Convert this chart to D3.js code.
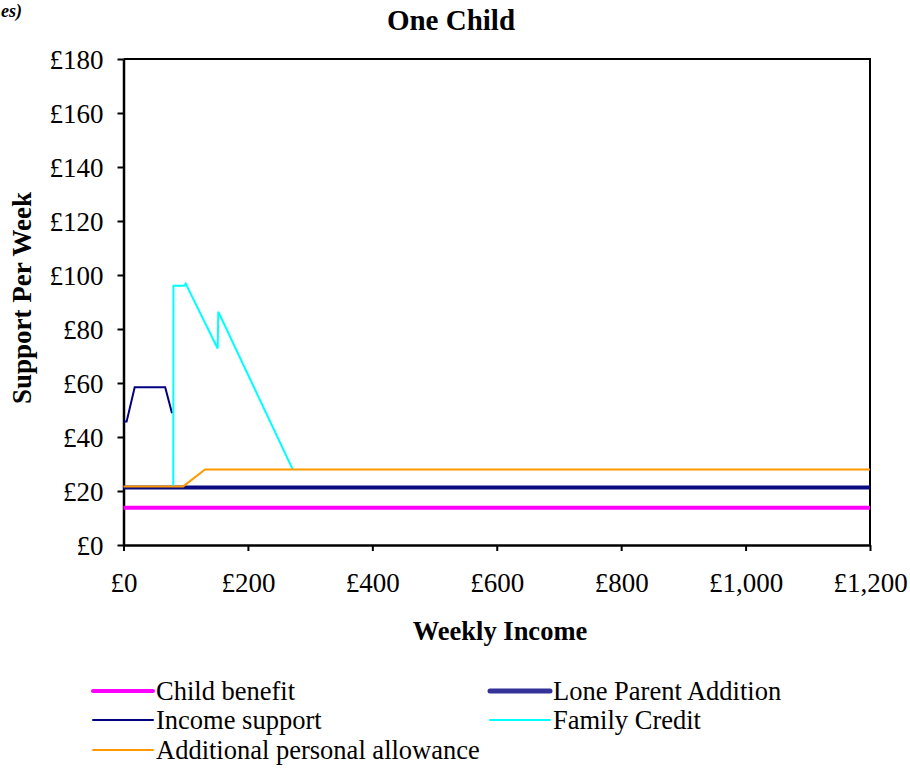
<!DOCTYPE html>
<html>
<head>
<meta charset="utf-8">
<script src="https://cdn.jsdelivr.net/npm/d3@7"></script>
<style>
  html, body { margin: 0; padding: 0; background: #fff; }
  svg { display: block; }
  text { font-family: "Liberation Serif", "Times New Roman", serif; fill: #000; }
</style>
</head>
<body>
<svg id="chart" width="910" height="769"></svg>
<script>
// Weekly support by income for a lone parent with one child
const xTicks = [0, 200, 400, 600, 800, 1000, 1200];
const yTicks = [0, 20, 40, 60, 80, 100, 120, 140, 160, 180];

const childBenefitIncome = [0, 1200];
const childBenefit = [13.8, 13.8];

const loneParentIncome = [0, 1200];
const loneParentAddition = [21.3, 21.3];

const incomeSupportIncome = [0, 5, 18, 67, 78];
const incomeSupport = [45.7, 45.7, 58.4, 58.4, 48.8];

const familyCreditIncome = [80, 80.3, 98, 100, 151.4, 152.4, 272];
const familyCredit = [21.6, 96.0, 96.0, 96.8, 72.8, 86.4, 28.0];

const allowanceIncome = [0, 96, 131, 1200];
const personalAllowance = [21.7, 21.7, 28.0, 28.0];

const seriesNames = ["Child benefit", "Lone Parent Addition", "Income support", "Family Credit", "Additional personal allowance"];

const series = [
  { name: seriesNames[0], xs: childBenefitIncome, ys: childBenefit, color: "#FF00FF", width: 4, legendColor: "#FF00FF", legendWidth: 4 },
  { name: seriesNames[1], xs: loneParentIncome, ys: loneParentAddition, color: "#0a0a80", width: 4, legendColor: "#333399", legendWidth: 5 },
  { name: seriesNames[2], xs: incomeSupportIncome, ys: incomeSupport, color: "#000080", width: 2, legendColor: "#000080", legendWidth: 2 },
  { name: seriesNames[3], xs: familyCreditIncome, ys: familyCredit, color: "#00FFFF", width: 2, legendColor: "#00FFFF", legendWidth: 2 },
  { name: seriesNames[4], xs: allowanceIncome, ys: personalAllowance, color: "#FF9900", width: 2, legendColor: "#FF9900", legendWidth: 2 }
];

const svg = d3.select("#chart");
const plot = { left: 123.5, right: 870, top: 59, bottom: 545 };

const x = d3.scaleLinear().domain([0, 1200]).range([plot.left, plot.right]);
const y = d3.scaleLinear().domain([0, 180]).range([plot.bottom, plot.top]);

const pound = d => "£" + d3.format(",")(d);

// heading fragment at top-left
svg.append("text").attr("x", 1).attr("y", 17)
  .attr("font-size", 18).attr("font-weight", "bold").attr("font-style", "italic")
  .text("es)");

// title
svg.append("text").attr("x", 451).attr("y", 30).attr("text-anchor", "middle")
  .attr("font-size", 29).attr("font-weight", "bold").text("One Child");

// plot frame (top and right edges)
svg.append("path")
  .attr("d", `M${plot.left},${plot.top}H${plot.right}V${plot.bottom}`)
  .attr("fill", "none").attr("stroke", "#000").attr("stroke-width", 2);

// y axis
const yAxis = svg.append("g").attr("transform", `translate(${plot.left},0)`)
  .call(d3.axisLeft(y).tickValues(yTicks).tickFormat(pound).tickSize(6).tickSizeOuter(0));
yAxis.select(".domain").attr("stroke-width", 2.5);
yAxis.selectAll(".tick line").attr("stroke-width", 2);
yAxis.selectAll(".tick text").attr("font-size", 27).attr("font-family", "Liberation Serif, serif")
  .attr("x", -20).attr("dy", "0.34em");

// x axis
const xAxis = svg.append("g").attr("transform", `translate(0,${plot.bottom})`)
  .call(d3.axisBottom(x).tickValues(xTicks).tickFormat(pound).tickSize(6).tickSizeOuter(0));
xAxis.select(".domain").attr("stroke-width", 2.5);
xAxis.selectAll(".tick line").attr("stroke-width", 2);
xAxis.selectAll(".tick text").attr("font-size", 27).attr("font-family", "Liberation Serif, serif")
  .attr("y", 28).attr("dy", "0.71em");

// axis titles
svg.append("text").attr("x", 500).attr("y", 640).attr("text-anchor", "middle")
  .attr("font-size", 26.5).attr("font-weight", "bold").text("Weekly Income");
svg.append("text").attr("transform", "translate(31,298) rotate(-90)").attr("text-anchor", "middle")
  .attr("font-size", 27).attr("font-weight", "bold").text("Support Per Week");

// series lines
const line = d3.line().x(d => x(d[0])).y(d => y(d[1]));
series.forEach(s => {
  svg.append("path")
    .datum(s.xs.map((v, i) => [v, s.ys[i]]))
    .attr("d", line)
    .attr("fill", "none")
    .attr("stroke", s.color)
    .attr("stroke-width", s.width)
    .attr("stroke-linejoin", "miter");
});

// legend
const legendPos = [
  { x: 93, y: 691 }, { x: 490, y: 691 },
  { x: 93, y: 720 }, { x: 490, y: 720 },
  { x: 93, y: 750 }
];
series.forEach((s, i) => {
  const p = legendPos[i];
  const g = svg.append("g").attr("transform", `translate(${p.x},${p.y})`);
  g.append("line").attr("x1", 0).attr("x2", 60).attr("y1", 0).attr("y2", 0)
    .attr("stroke", s.legendColor).attr("stroke-width", s.legendWidth).attr("stroke-linecap", "round");
  g.append("text").attr("x", 63).attr("y", 0).attr("dy", "0.33em")
    .attr("font-size", 26.5).text(s.name);
});
</script>
</body>
</html>
